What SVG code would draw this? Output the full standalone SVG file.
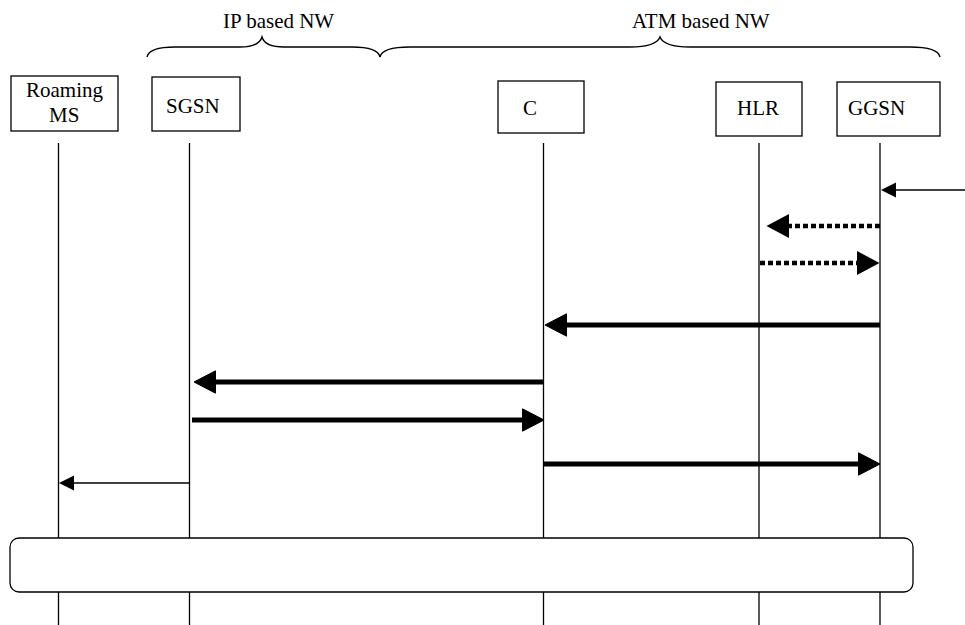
<svg xmlns="http://www.w3.org/2000/svg" width="965" height="625" viewBox="0 0 965 625">
<style>
.box{fill:#fff;stroke:#000;stroke-width:1.3}
.lbl{font-family:"Liberation Serif","Times New Roman",serif;font-size:21px;fill:#000}
.life{stroke:#000;stroke-width:1.3;fill:none}
.brace{stroke:#000;stroke-width:1.4;fill:none}
.thin{stroke:#000;stroke-width:1.4;fill:none}
.thick{stroke:#000;stroke-width:5;fill:none}
.dot{stroke:#000;stroke-width:4.3;fill:none;stroke-dasharray:5 3}
</style>
<defs>
<marker id="hThick" markerUnits="userSpaceOnUse" viewBox="0 0 23 24" refX="0" refY="12" markerWidth="23" markerHeight="24" orient="auto">
<path d="M0.5,0.8 L22,12 L0.5,23.2 z" fill="#000" stroke="#000" stroke-width="1" stroke-linejoin="round"/>
</marker>
<marker id="hDot" markerUnits="userSpaceOnUse" viewBox="0 0 23 25" refX="0" refY="12.5" markerWidth="23" markerHeight="25" orient="auto">
<path d="M0,0.5 L22.5,12.5 L0,24.5 z" fill="#000"/>
</marker>
<marker id="hThin" markerUnits="userSpaceOnUse" viewBox="0 0 16 16" refX="0" refY="8" markerWidth="16" markerHeight="16" orient="auto">
<path d="M0,0.5 L15,8 L0,15.5 z" fill="#000"/>
</marker>
</defs>

<g id="braces">
<g id="brace-ip">
<path class="brace" d="M147,57 Q149,47 175,47 L240,47 Q259,47 262,37 Q265,47 284,47 L352,47 Q378,47 380,57"/>
<text class="lbl" x="223" y="28">IP based NW</text>
</g>
<g id="brace-atm">
<path class="brace" d="M380,57 Q382,47 410,47 L630,47 Q656,47 660,37 Q664,47 690,47 L910,47 Q938,47 940,57"/>
<text class="lbl" x="632" y="28">ATM based NW</text>
</g>
</g>

<g id="lifelines">
<line class="life" x1="58.5" y1="143" x2="58.5" y2="625"/>
<line class="life" x1="189.5" y1="143" x2="189.5" y2="625"/>
<line class="life" x1="543.5" y1="143" x2="543.5" y2="625"/>
<line class="life" x1="759" y1="143" x2="759" y2="625"/>
<line class="life" x1="880" y1="143" x2="880" y2="625"/>
</g>

<g id="node-ms">
<rect class="box" x="11" y="76" width="107" height="55"/>
<text class="lbl" x="26" y="97">Roaming</text>
<text class="lbl" x="49" y="122">MS</text>
</g>
<g id="node-sgsn">
<rect class="box" x="152" y="77" width="88" height="54"/>
<text class="lbl" x="166" y="113">SGSN</text>
</g>
<g id="node-c">
<rect class="box" x="498" y="81" width="86" height="52"/>
<text class="lbl" x="523" y="115">C</text>
</g>
<g id="node-hlr">
<rect class="box" x="716" y="82" width="86" height="54"/>
<text class="lbl" x="737" y="115">HLR</text>
</g>
<g id="node-ggsn">
<rect class="box" x="837" y="82" width="103" height="54"/>
<text class="lbl" x="848" y="115">GGSN</text>
</g>

<g id="connectors">
<line class="thin" x1="965" y1="190" x2="896" y2="190" marker-end="url(#hThin)"/>
<line class="dot" x1="880" y1="226" x2="789" y2="226" marker-end="url(#hDot)"/>
<line class="dot" x1="760" y1="263" x2="857" y2="263" marker-end="url(#hDot)"/>
<line class="thick" x1="880" y1="325" x2="567" y2="325" marker-end="url(#hThick)"/>
<line class="thick" x1="544" y1="382" x2="216" y2="382" marker-end="url(#hThick)"/>
<line class="thick" x1="192" y1="420" x2="522" y2="420" marker-end="url(#hThick)"/>
<line class="thick" x1="544" y1="464" x2="858" y2="464" marker-end="url(#hThick)"/>
<line class="thin" x1="189" y1="483" x2="74" y2="483" marker-end="url(#hThin)"/>
</g>

<g id="node-bar">
<rect class="box" x="10" y="538" width="903" height="54" rx="9" ry="9"/>
</g>
</svg>
